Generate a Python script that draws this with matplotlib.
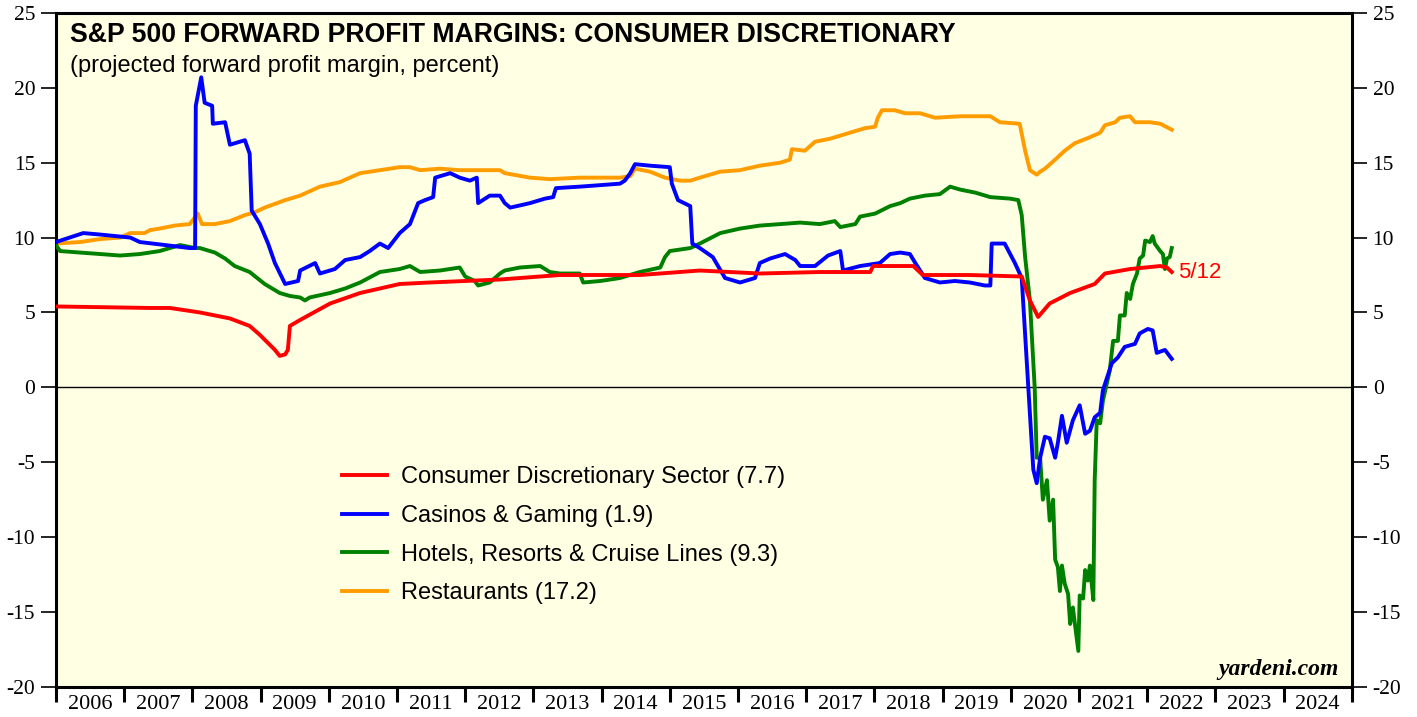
import numpy as np
import matplotlib
matplotlib.use("Agg")
import matplotlib.pyplot as plt

# dates as decimal years, values in percent
red_t = [2006.00, 2007.38, 2007.67, 2008.11, 2008.55, 2008.84, 2008.99, 2009.21, 2009.28,
         2009.36, 2009.40, 2009.43, 2009.58, 2010.02, 2010.46, 2011.04, 2011.48, 2012.51,
         2013.39, 2014.56, 2015.44, 2016.32, 2017.20, 2017.94, 2017.98, 2018.30, 2018.57,
         2018.71, 2019.40, 2020.16, 2020.28, 2020.40, 2020.57, 2020.87, 2021.23, 2021.38,
         2021.75, 2022.19, 2022.29, 2022.36]
red_v = [5.4, 5.3, 5.3, 5.0, 4.6, 4.1, 3.5, 2.5, 2.1,
         2.2, 2.5, 4.1, 4.5, 5.6, 6.3, 6.9, 7.0, 7.2,
         7.5, 7.5, 7.8, 7.6, 7.7, 7.7, 8.1, 8.1, 8.1,
         7.5, 7.5, 7.4, 5.8, 4.7, 5.6, 6.3, 6.9, 7.6,
         7.9, 8.1, 8.0, 7.7]

blue_t = [2006.00, 2006.40, 2006.65, 2007.09, 2007.23, 2007.60, 2007.96, 2008.04, 2008.05,
          2008.13, 2008.18, 2008.29, 2008.30, 2008.48, 2008.55, 2008.77, 2008.84, 2008.87,
          2008.99, 2009.11, 2009.21, 2009.36, 2009.55, 2009.58, 2009.80, 2009.87, 2010.09,
          2010.24, 2010.46, 2010.60, 2010.75, 2010.87, 2011.04, 2011.19, 2011.31, 2011.41,
          2011.53, 2011.56, 2011.78, 2011.92, 2012.07, 2012.17, 2012.19, 2012.36, 2012.51,
          2012.58, 2012.66, 2012.95, 2013.17, 2013.29, 2013.33, 2013.68, 2013.98, 2014.27,
          2014.34, 2014.42, 2014.49, 2014.71, 2015.00, 2015.03, 2015.12, 2015.30, 2015.33,
          2015.44, 2015.63, 2015.81, 2016.03, 2016.25, 2016.32, 2016.47, 2016.69, 2016.84,
          2016.91, 2017.13, 2017.32, 2017.50, 2017.54, 2017.79, 2018.08, 2018.23, 2018.38,
          2018.52, 2018.60, 2018.74, 2018.96, 2019.18, 2019.40, 2019.62, 2019.70, 2019.72,
          2019.91, 2020.06, 2020.16, 2020.25, 2020.33, 2020.38, 2020.43, 2020.50, 2020.57,
          2020.65, 2020.69, 2020.75, 2020.82, 2020.91, 2021.01, 2021.09, 2021.16, 2021.23,
          2021.31, 2021.35, 2021.48, 2021.57, 2021.67, 2021.82, 2021.89, 2022.01, 2022.08,
          2022.14, 2022.26, 2022.36]
blue_v = [9.7, 10.3, 10.2, 10.0, 9.7, 9.5, 9.3, 9.3, 18.8,
          20.7, 19.0, 18.8, 17.6, 17.7, 16.2, 16.5, 15.6, 11.8,
          10.9, 9.6, 8.3, 6.9, 7.1, 7.8, 8.3, 7.6, 7.9,
          8.5, 8.7, 9.1, 9.6, 9.3, 10.3, 10.9, 12.3, 12.5,
          12.7, 14.0, 14.3, 14.0, 13.8, 14.0, 12.3, 12.8, 12.8,
          12.3, 12.0, 12.3, 12.6, 12.7, 13.3, 13.4, 13.5, 13.6,
          13.8, 14.3, 14.9, 14.8, 14.7, 13.6, 12.5, 12.1, 9.6,
          9.3, 8.7, 7.3, 7.0, 7.3, 8.3, 8.6, 8.9, 8.5,
          8.1, 8.1, 8.8, 9.1, 7.8, 8.1, 8.3, 8.9, 9.0,
          8.9, 8.3, 7.3, 7.0, 7.1, 7.0, 6.8, 6.8, 9.6,
          9.6, 8.3, 7.3, 0.5, -5.5, -6.4, -4.7, -3.3, -3.4,
          -4.7, -3.7, -1.9, -3.7, -2.2, -1.2, -3.1, -2.9, -2.0,
          -1.7, -0.2, 1.6, 2.0, 2.7, 2.9, 3.6, 3.9, 3.8,
          2.3, 2.5, 1.9]

green_t = [2006.00, 2006.06, 2006.35, 2006.65, 2006.94, 2007.23, 2007.52, 2007.82, 2008.04,
           2008.11, 2008.33, 2008.48, 2008.62, 2008.84, 2009.06, 2009.28, 2009.43, 2009.58,
           2009.65, 2009.72, 2010.02, 2010.24, 2010.46, 2010.75, 2011.04, 2011.19, 2011.34,
           2011.63, 2011.92, 2012.00, 2012.14, 2012.19, 2012.36, 2012.51, 2012.58, 2012.80,
           2013.10, 2013.24, 2013.39, 2013.68, 2013.73, 2013.98, 2014.27, 2014.56, 2014.86,
           2014.93, 2015.00, 2015.30, 2015.44, 2015.74, 2016.03, 2016.32, 2016.62, 2016.91,
           2017.20, 2017.42, 2017.50, 2017.72, 2017.79, 2018.01, 2018.23, 2018.38, 2018.52,
           2018.74, 2018.96, 2019.11, 2019.26, 2019.48, 2019.70, 2019.99, 2020.11, 2020.16,
           2020.21, 2020.28, 2020.35, 2020.38, 2020.43, 2020.47, 2020.53, 2020.57, 2020.62,
           2020.65, 2020.69, 2020.72, 2020.75, 2020.79, 2020.84, 2020.87, 2020.91, 2020.94,
           2020.99, 2021.01, 2021.06, 2021.09, 2021.13, 2021.16, 2021.21, 2021.23, 2021.26,
           2021.31, 2021.35, 2021.45, 2021.50, 2021.57, 2021.60, 2021.67, 2021.70, 2021.75,
           2021.79, 2021.85, 2021.89, 2021.94, 2021.97, 2022.04, 2022.08, 2022.11, 2022.19,
           2022.23, 2022.26, 2022.29, 2022.33, 2022.36]
green_v = [9.5, 9.1, 9.0, 8.9, 8.8, 8.9, 9.1, 9.5, 9.3,
           9.3, 9.0, 8.6, 8.1, 7.7, 6.9, 6.3, 6.1, 6.0,
           5.8, 6.0, 6.3, 6.6, 7.0, 7.7, 7.9, 8.1, 7.7,
           7.8, 8.0, 7.4, 7.1, 6.8, 7.0, 7.6, 7.8, 8.0,
           8.1, 7.7, 7.6, 7.6, 7.0, 7.1, 7.3, 7.7, 8.0,
           8.7, 9.1, 9.3, 9.6, 10.3, 10.6, 10.8, 10.9, 11.0,
           10.9, 11.1, 10.7, 10.9, 11.4, 11.6, 12.1, 12.3, 12.6,
           12.8, 12.9, 13.4, 13.2, 13.0, 12.7, 12.6, 12.5, 11.5,
           8.7, 5.8, 0.0, -4.7, -4.7, -7.5, -6.2, -8.9, -7.5,
           -11.5, -12.0, -13.6, -11.9, -13.1, -13.8, -15.8, -14.7, -15.8,
           -17.6, -13.9, -14.1, -12.2, -12.9, -11.9, -14.2, -6.2, -2.2,
           -2.4, -0.9, 1.1, 3.1, 3.1, 4.8, 4.8, 6.3, 5.9,
           6.9, 7.6, 8.6, 8.8, 9.8, 9.7, 10.1, 9.6, 9.1,
           8.9, 7.9, 8.6, 8.7, 9.3]

orange_t = [2006.00, 2006.35, 2006.65, 2006.94, 2007.09, 2007.30, 2007.38, 2007.52, 2007.74,
            2007.96, 2008.08, 2008.14, 2008.33, 2008.55, 2008.77, 2008.92, 2009.06, 2009.36,
            2009.58, 2009.87, 2010.16, 2010.46, 2010.75, 2011.04, 2011.19, 2011.34, 2011.63,
            2011.92, 2012.51, 2012.58, 2012.95, 2013.24, 2013.68, 2013.98, 2014.27, 2014.42,
            2014.49, 2014.71, 2014.93, 2015.15, 2015.30, 2015.44, 2015.74, 2016.03, 2016.32,
            2016.62, 2016.76, 2016.79, 2016.98, 2017.13, 2017.35, 2017.64, 2017.86, 2018.01,
            2018.05, 2018.11, 2018.30, 2018.45, 2018.67, 2018.89, 2019.26, 2019.70, 2019.84,
            2020.13, 2020.21, 2020.28, 2020.38, 2020.43, 2020.50, 2020.65, 2020.79, 2020.94,
            2021.16, 2021.31, 2021.38, 2021.53, 2021.60, 2021.75, 2021.82, 2022.04, 2022.19,
            2022.36]
orange_v = [9.6, 9.7, 9.9, 10.0, 10.3, 10.3, 10.5, 10.6, 10.8,
            10.9, 11.6, 10.9, 10.9, 11.1, 11.5, 11.7, 12.0, 12.5,
            12.8, 13.4, 13.7, 14.3, 14.5, 14.7, 14.7, 14.5, 14.6,
            14.5, 14.5, 14.3, 14.0, 13.9, 14.0, 14.0, 14.0, 14.1,
            14.6, 14.4, 14.0, 13.8, 13.8, 14.0, 14.4, 14.5, 14.8,
            15.0, 15.2, 15.9, 15.8, 16.4, 16.6, 17.0, 17.3, 17.4,
            18.0, 18.5, 18.5, 18.3, 18.3, 18.0, 18.1, 18.1, 17.7,
            17.6, 15.8, 14.5, 14.2, 14.4, 14.6, 15.2, 15.8, 16.3,
            16.7, 17.0, 17.5, 17.7, 18.0, 18.1, 17.7, 17.7, 17.6,
            17.2]

labels = ["Consumer Discretionary Sector (7.7)", "Casinos & Gaming (1.9)",
          "Hotels, Resorts & Cruise Lines (9.3)", "Restaurants (17.2)"]
years = list(range(2006, 2025))
yticks = list(range(-20, 30, 5))

fig = plt.figure(figsize=(14.17, 7.17), dpi=100)
ax = fig.add_axes([0.0395, 0.042, 0.9145, 0.940])
ax.set_facecolor("#FFFFE3")

lw = 2.8
ax.plot(red_t, red_v, color="#FF0000", lw=lw, label=labels[0], zorder=5)
ax.plot(blue_t, blue_v, color="#0000FF", lw=lw, label=labels[1], zorder=4)
ax.plot(green_t, green_v, color="#008000", lw=lw, label=labels[2], zorder=3)
ax.plot(orange_t, orange_v, color="#FF9C00", lw=lw, label=labels[3], zorder=2)
ax.axhline(0, color="black", lw=1.0, zorder=1)

ax.set_xlim(2006, 2025)
ax.set_ylim(-20, 25)

# x axis: ticks at year boundaries, labels centred in each year
ax.set_xticks(range(2006, 2026))
ax.set_xticklabels([])
ax.set_xticks([y + 0.5 for y in years], minor=True)
ax.set_xticklabels([str(y) for y in years], minor=True)
ax.tick_params(axis="x", which="major", length=11, width=2.2, direction="out")
ax.tick_params(axis="x", which="minor", length=0, pad=6, labelsize=16)

ax.set_yticks(yticks)
ax.set_yticklabels([str(v) for v in yticks])
ax.tick_params(axis="y", which="major", length=11, width=1.2, labelsize=15.5,
               left=True, right=True, labelleft=True, labelright=True, pad=4)
for lab in ax.get_xticklabels(minor=True):
    lab.set_family("Liberation Serif")
for tk in ax.yaxis.get_major_ticks():
    tk.label1.set_family("Liberation Serif")
    tk.label2.set_family("Liberation Serif")

for s in ax.spines.values():
    s.set_linewidth(2.2)

ax.text(0.011, 0.986, "S&P 500 FORWARD PROFIT MARGINS: CONSUMER DISCRETIONARY",
        transform=ax.transAxes, ha="left", va="top", fontsize=19.2, fontweight="bold",
        family="Liberation Sans")
ax.text(0.011, 0.921, "(projected forward profit margin, percent)",
        transform=ax.transAxes, ha="left", va="center", fontsize=17,
        family="Liberation Sans")
ax.text(0.99, 0.010, "yardeni.com", transform=ax.transAxes, ha="right", va="bottom",
        fontsize=17, fontweight="bold", style="italic", family="Liberation Serif")
ax.text(red_t[-1] + 0.09, red_v[-1], "5/12", color="#FF0000", ha="left", va="center",
        fontsize=16, family="Liberation Sans")

leg = ax.legend(loc="upper left", bbox_to_anchor=(0.221, 0.327), frameon=False,
                handlelength=1.9, handletextpad=0.6, labelspacing=0.70,
                borderaxespad=0, borderpad=0, prop={"family": "Liberation Sans", "size": 17})

fig.savefig("out.png", dpi=100)
